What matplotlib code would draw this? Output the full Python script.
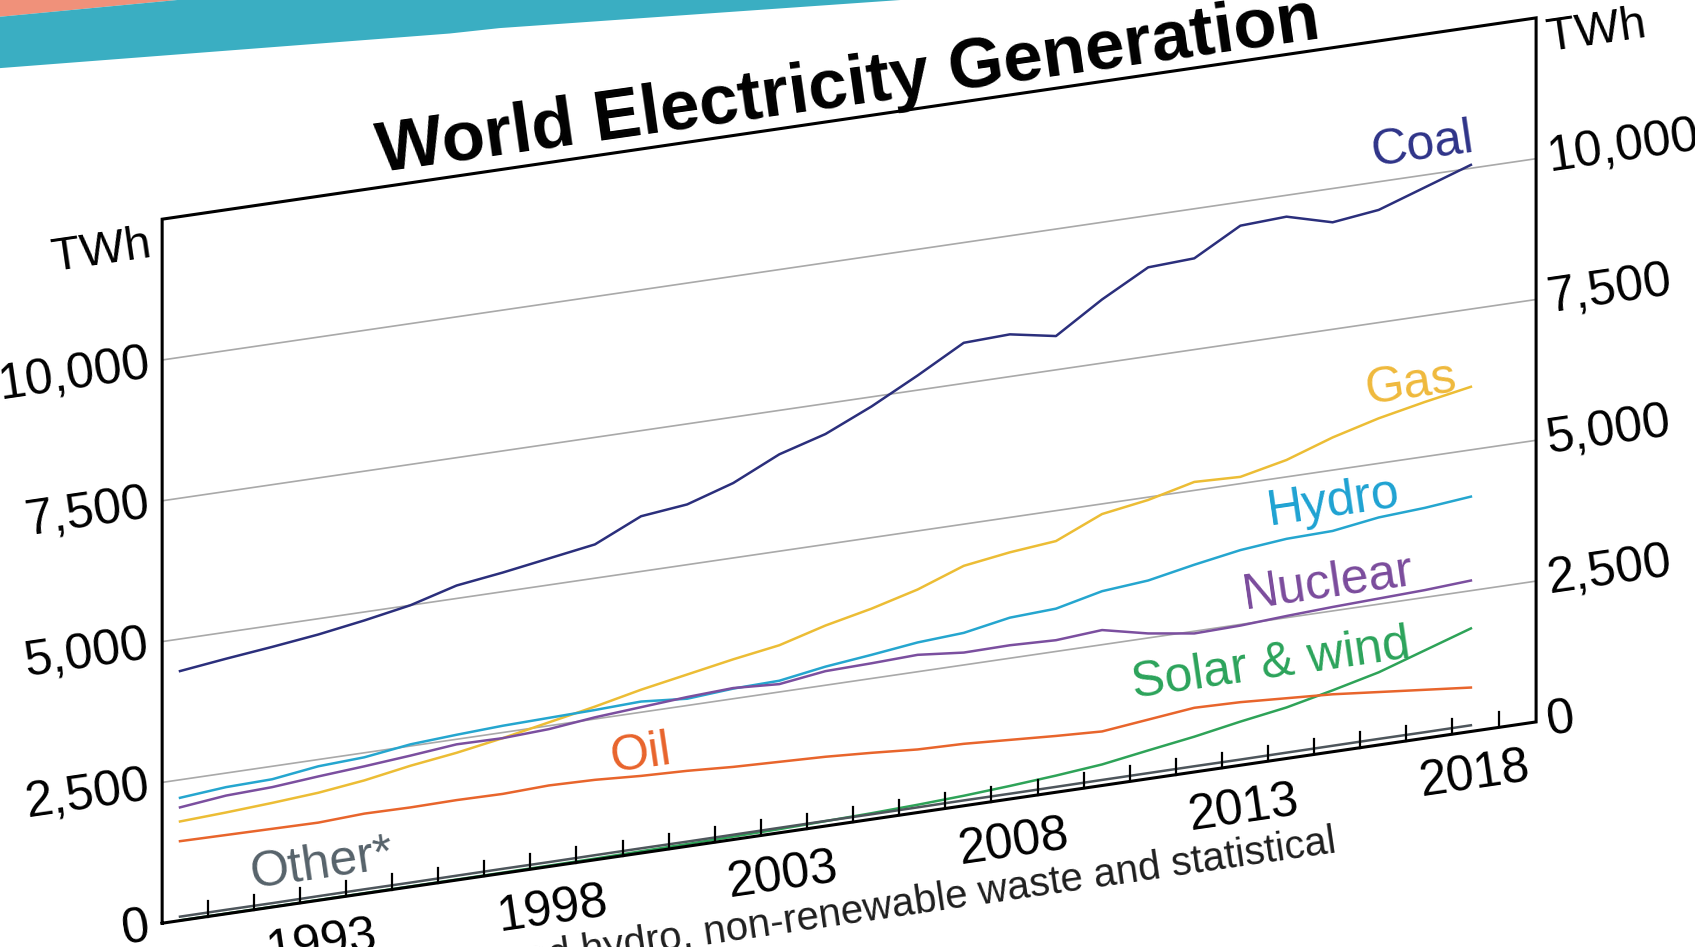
import numpy as np
import matplotlib.pyplot as plt
from matplotlib.transforms import Affine2D

plt.rcParams['font.family'] = ['Liberation Sans', 'DejaVu Sans']

years = list(range(1990, 2019))

# TWh
coal = [4430, 4530, 4620, 4720, 4850, 5000, 5230, 5340, 5470, 5600, 5980, 6070, 6330, 6720, 6960,
        7330, 7760, 8220, 8250, 8100, 8630, 9080, 9120, 9580, 9620, 9400, 9500, 9780, 10060]
gas = [1760, 1800, 1850, 1910, 2010, 2150, 2260, 2400, 2560, 2720, 2900, 3050, 3200, 3330, 3560,
       3740, 3960, 4260, 4380, 4460, 4820, 4950, 5150, 5120, 5300, 5580, 5800, 5970, 6120]
hydro = [2180, 2250, 2270, 2380, 2420, 2530, 2580, 2620, 2640, 2660, 2690, 2620, 2680, 2700, 2830,
         2920, 3020, 3070, 3220, 3260, 3450, 3520, 3680, 3820, 3900, 3920, 4040, 4090, 4170]
nuclear = [2010, 2100, 2130, 2200, 2260, 2330, 2410, 2400, 2440, 2530, 2590, 2650, 2690, 2640, 2750,
           2770, 2800, 2720, 2730, 2700, 2760, 2580, 2460, 2480, 2530, 2570, 2600, 2630, 2680]
oil = [1410, 1400, 1390, 1380, 1420, 1410, 1420, 1410, 1440, 1420, 1370, 1340, 1290, 1260, 1230,
       1180, 1120, 1100, 1050, 1000, 960, 1050, 1140, 1120, 1070, 1020, 940, 860, 780]
solar_wind = [4, 5, 5, 6, 7, 8, 9, 12, 16, 21, 32, 39, 53, 65, 87, 108, 138, 178, 232, 296, 374,
              503, 627, 775, 906, 1090, 1290, 1560, 1830]
other = [70, 72, 70, 74, 76, 75, 78, 80, 79, 82, 84, 83, 86, 88, 90, 89, 92, 95, 94, 96, 99, 100,
         102, 101, 104, 106, 108, 107, 110]

grid_vals = [2500, 5000, 7500, 10000]
tick_labels = ['0', '2,500', '5,000', '7,500', '10,000']
year_labels = [1993, 1998, 2003, 2008, 2013, 2018]

# (name, data, line colour, text colour, label year, label value)
series = [
    ('Coal', coal, '#2b2f7c', '#2e3388', 2016.95, 10520),
    ('Gas', gas, '#ecbd35', '#efb93c', 2016.7, 6310),
    ('Hydro', hydro, '#25a6cf', '#1ea2d2', 2015.03, 4420),
    ('Nuclear', nuclear, '#7b4f9f', '#7a4b9c', 2014.9, 2990),
    ('Solar & wind', solar_wind, '#2ea358', '#2ba35a', 2013.67, 1700),
    ('Oil', oil, '#e8652c', '#e8632b', 2000.0, 1750),
    ('Other*', other, '#4e565c', '#56626a', 1993.08, 620),
]

fig = plt.figure(figsize=(16.95, 9.47), dpi=100)
ax = fig.add_axes([0, 0, 1, 1])
ax.set_xlim(0, 1568)
ax.set_ylim(876, 0)
ax.axis('off')

# slide decoration at the top left
ax.fill([0, 0, 164, 0], [0, 15.5, 0, 0], color='#f0917a', lw=0)
ax.fill([0, 164, 833, 462, 416, 0], [15.5, 0, 0, 26, 31, 63], color='#3aaec2', lw=0)

# the slide was photographed at an angle: year/TWh -> tilted plane
x0, dx = 166.5, 42.65
s, k = 0.1465, 0.0521
tilt = Affine2D(np.array([[dx, 0, x0 - 1990 * dx],
                          [-s * dx, -k, 854 - s * (x0 - 150) + s * dx * 1990],
                          [0, 0, 1]]))
trans = tilt + ax.transData
ang = np.degrees(np.arctan(s))

yl = 1990 + (150 - x0) / dx
yr = 1990 + (1421 - x0) / dx

for v in grid_vals:
    ax.plot([yl, yr], [v, v], color='#a9a9a9', lw=1.2, transform=trans, zorder=1)

for name, data, col, tcol, lx, ly in series:
    ax.plot(years, data, color=col, lw=1.8, transform=trans, zorder=3)
    ax.text(lx, ly, name, transform=trans, color=tcol, fontsize=36, ha='center', va='center',
            rotation=ang, rotation_mode='anchor', zorder=4)

# frame
ax.plot([yl, yl, yr, yr, yl], [0, 12500, 12500, 0, 0], color='black', lw=2.2,
        transform=trans, zorder=5, solid_joinstyle='miter')

# year ticks point inwards
for t in np.arange(1990, 2019) + 0.6:
    ax.plot([t, t], [0, 270], color='black', lw=1.6, transform=trans, zorder=5)

for v, lab in zip([0] + grid_vals, tick_labels):
    ax.annotate(lab, xy=(yl, v), xycoords=trans, xytext=(-9, -3), textcoords='offset points',
                ha='right', va='center', fontsize=36, rotation=ang, rotation_mode='anchor')
    ax.annotate(lab, xy=(yr, v), xycoords=trans, xytext=(8, 0), textcoords='offset points',
                ha='left', va='center', fontsize=36, rotation=ang, rotation_mode='anchor',
                annotation_clip=False)
ax.annotate('TWh', xy=(yl, 12050), xycoords=trans, xytext=(-8, 0), textcoords='offset points',
            ha='right', va='center', fontsize=34, rotation=ang, rotation_mode='anchor')
ax.annotate('TWh', xy=(yr, 12120), xycoords=trans, xytext=(8, 0), textcoords='offset points',
            ha='left', va='center', fontsize=34, rotation=ang, rotation_mode='anchor')

for yy in year_labels:
    ax.annotate(str(yy), xy=(yy, 0), xycoords=trans, xytext=(0, -15), textcoords='offset points',
                ha='center', va='top', fontsize=36, rotation=ang, rotation_mode='anchor')

ax.text(2004.55, 12730, 'World Electricity Generation', transform=trans, fontsize=51,
        fontweight='bold', ha='center', va='baseline', rotation=8.1, rotation_mode='anchor')

ax.text(2015.1, -1790, '*Other includes geothermal, tide, pumped hydro, non-renewable waste and statistical',
        transform=trans, fontsize=29, color='#1e1e1e', ha='right', va='baseline',
        rotation=ang, rotation_mode='anchor')

fig.savefig('out.png', dpi=100)
